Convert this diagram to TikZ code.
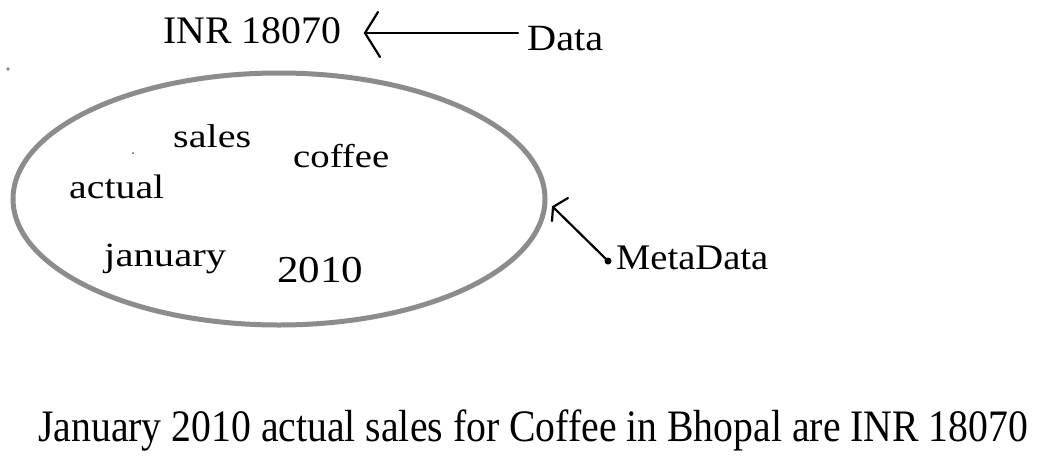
\documentclass[tikz,border=0pt]{standalone}
\usepackage{fontspec}
\setmainfont{Liberation Serif}
\usepackage{graphicx}
\usetikzlibrary{shapes.geometric}
\definecolor{ringgray}{RGB}{140,140,140}
\newcommand{\fw}[3]{\resizebox{#2pt}{\height}{\fontsize{#1pt}{#1pt}\selectfont #3}}
\begin{document}
\begin{tikzpicture}[x=1pt,y=-1pt,
  lbl/.style={inner sep=0pt,anchor=base west},
  pen/.style={line width=2.2pt,line cap=round,black}]
\useasboundingbox[fill=white] (0,0) rectangle (1038,458);
% top
\node[lbl] (inr) at (163,43) {\fw{39}{178}{INR 18070}};
\node[lbl] (data) at (527,50) {\fw{37}{76}{Data}};
\coordinate (dtail) at (518,33);
\coordinate (dtip) at (365,33);
\coordinate (dh1) at (378,12);
\coordinate (dh2) at (380,57);
\draw[pen] (dtail) -- (dtip);
\draw[pen] (dh1) -- (dtip) -- (dh2);
% stray dots
\fill[ringgray] (8,69) circle (1.8pt);
\fill[black!70] (133,153) circle (1pt);
% ellipse
\node[draw=ringgray,line width=5pt,ellipse,minimum width=532pt,minimum height=252pt,inner sep=0pt] (meta) at (279,199) {};
\node[lbl] (sales) at (173,147) {\fw{33}{78}{sales}};
\node[lbl] (coffee) at (293,167) {\fw{33}{96}{coffee}};
\node[lbl] (actual) at (69,198) {\fw{34}{95}{actual}};
\node[lbl] (january) at (104,266) {\fw{34}{122}{january}};
\node[lbl] (yr) at (277,282) {\fw{38}{86}{2010}};
% metadata
\node[lbl] (md) at (616,269) {\fw{36}{152}{MetaData}};
\coordinate (mdot) at (608,261);
\coordinate (mtip) at (553,207);
\coordinate (mh1) at (568,198);
\coordinate (mh2) at (552,221);
\fill (mdot) circle (3.5pt);
\draw[pen] (mdot) -- (mtip);
\draw[pen] (mh1) -- (mtip) -- (mh2);
% bottom sentence
\node[lbl] (sentence) at (38,441) {\fw{45}{990}{January 2010 actual sales for Coffee in Bhopal are INR 18070}};
\end{tikzpicture}
\end{document}
